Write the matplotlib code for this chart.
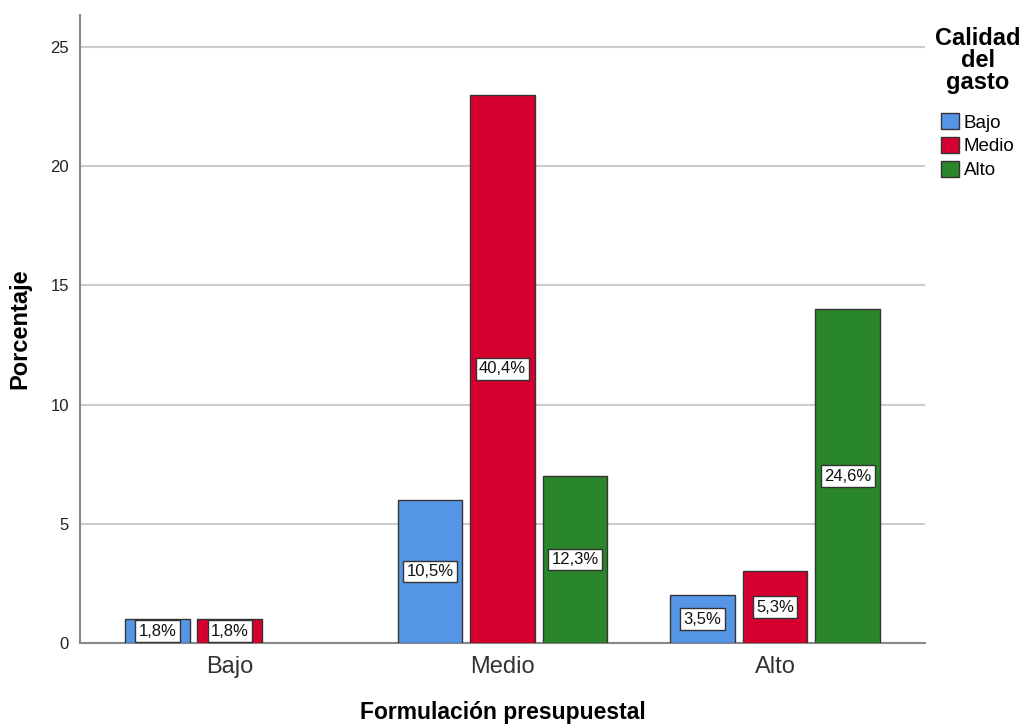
import numpy as np
import matplotlib.pyplot as plt
from matplotlib.patches import Patch

plt.rcParams['font.family'] = ['Liberation Sans', 'DejaVu Sans']

categorias = ['Bajo', 'Medio', 'Alto']
grupos = ['Bajo', 'Medio', 'Alto']
# frecuencias por formulacion (columnas) y calidad del gasto (series)
bajo = [1, 6, 2]
medio = [1, 23, 3]
alto = [0, 7, 14]
etiquetas = [['1,8%', '10,5%', '3,5%'],
             ['1,8%', '40,4%', '5,3%'],
             ['', '12,3%', '24,6%']]
colores = ['#5596e6', '#d5002f', '#2a862a']

fig = plt.figure(figsize=(10.25, 7.26), dpi=100)
ax = fig.add_axes([0.078, 0.1143, 0.8244, 0.865])

x = np.arange(len(categorias))
ancho = 0.238
paso = 0.266
series = [bajo, medio, alto]
for i, (vals, col) in enumerate(zip(series, colores)):
    pos = x + (i - 1) * paso
    for xp, v, lab in zip(pos, vals, etiquetas[i]):
        if v == 0:
            continue
        ax.bar(xp, v, width=ancho, color=col, edgecolor='#333333', linewidth=1, zorder=3)
        ax.text(xp, v / 2, lab, ha='center', va='center', fontsize=12, zorder=4,
                color='#111111',
                bbox=dict(boxstyle='square,pad=0.2', fc='white', ec='#333333', lw=1))

ax.set_xlim(-0.55, 2.55)
ax.set_ylim(0, 26.34)
ax.set_yticks([0, 5, 10, 15, 20, 25])
ax.set_xticks(x)
ax.set_xticklabels(categorias, fontsize=17, color='#333333')
ax.tick_params(axis='y', length=0, labelsize=12, pad=8, labelcolor='#222222')
ax.tick_params(axis='x', length=0, pad=9)
ax.yaxis.grid(True, color='#cccccc', linewidth=1.5, zorder=0)
ax.set_axisbelow(True)
for s in ['top', 'right']:
    ax.spines[s].set_visible(False)
ax.spines['left'].set_color('#888888')
ax.spines['left'].set_linewidth(1.5)
ax.spines['bottom'].set_color('#888888')
ax.spines['bottom'].set_linewidth(1.5)

ax.set_ylabel('Porcentaje', fontsize=17, fontweight='bold', va='center')
ax.yaxis.set_label_coords(-0.071, 0.5)
ax.set_xlabel('Formulación presupuestal', fontsize=16.5, fontweight='bold', va='center')
ax.xaxis.set_label_coords(0.5, -0.110)

# titulo de la leyenda aparte, centrado sobre las entradas
fig.text(978 / 1025, 1 - 27 / 726, 'Calidad\ndel\ngasto', ha='center', va='top',
         fontsize=17, fontweight='bold', linespacing=0.95, multialignment='center')

handles = [Patch(facecolor=c, edgecolor='#333333', label=g) for c, g in zip(colores, grupos)]
leg = fig.legend(handles=handles, loc='upper left',
                 bbox_to_anchor=(941 / 1025, 1 - 113 / 726), frameon=False, fontsize=13.5,
                 handlelength=0.96, handleheight=0.96, handletextpad=0.25,
                 labelspacing=0.28, borderaxespad=0, borderpad=0)

fig.savefig('out.png', dpi=100)
